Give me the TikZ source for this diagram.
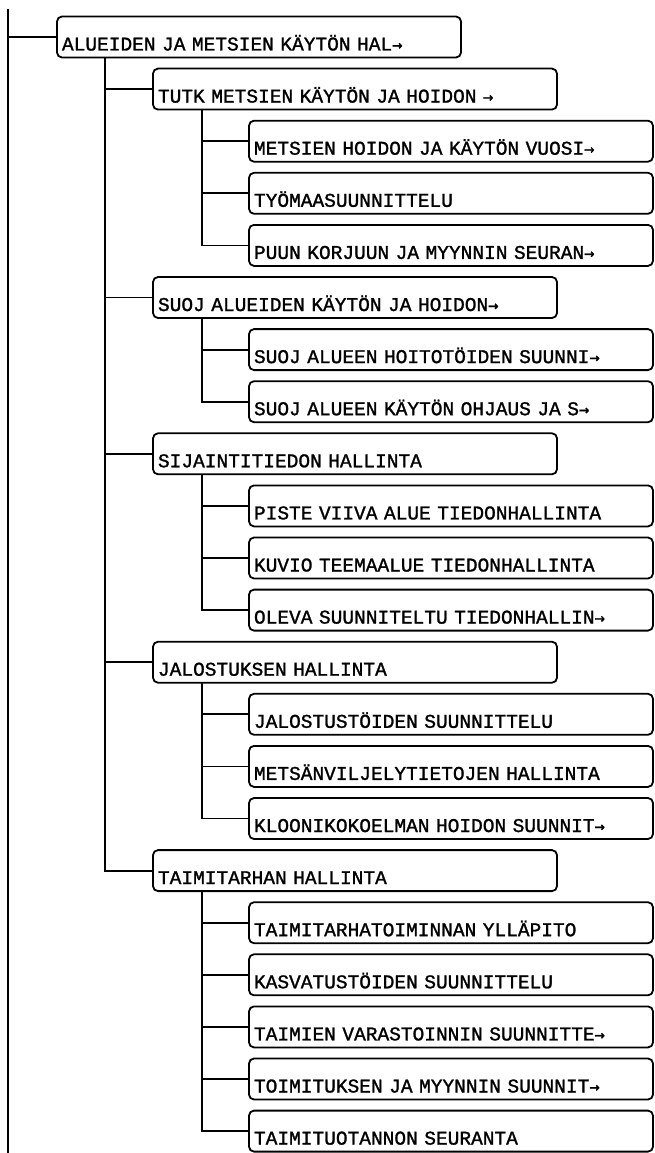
\documentclass[tikz,border=0pt]{standalone}
\usepackage{fontspec}
\usepackage{tikz}
\usetikzlibrary{positioning,calc}
\newfontfamily\plotter[FakeBold=1.3]{Liberation Mono}
\newfontfamily\plotarrow[FakeBold=1.3]{DejaVu Sans Mono}
\newcommand{\more}{{\plotarrow\fontsize{17pt}{17pt}\selectfont →}}
\tikzstyle{box} = [draw, rectangle, rounded corners=5pt, outer sep=0pt, inner xsep=5pt, inner ysep=0pt, minimum height=41pt, text width=394pt, text height=34pt, text depth=7pt, align=left, font=\plotter\fontsize{19.5pt}{19.5pt}\selectfont]
\tikzstyle{wire} = [draw, line width=1.8pt]

\begin{document}
\begin{tikzpicture}[x=1pt, y=1pt, line width=1.8pt, node distance=11.1pt]
  \useasboundingbox (0,0) rectangle (655,-1153);
  % Nodes
  \node [box, anchor=west] (alue) at (57,-37) {ALUEIDEN JA METSIEN KÄYTÖN HAL\more};
  \node [box, below=of alue.south west, anchor=north west, xshift=96pt] (tutk) {TUTK METSIEN KÄYTÖN JA HOIDON \more};
  \node [box, below=of tutk.south west, anchor=north west, xshift=96pt] (vuosi) {METSIEN HOIDON JA KÄYTÖN VUOSI\more};
  \node [box, below=of vuosi.south west, anchor=north west] (tyomaa) {TYÖMAASUUNNITTELU};
  \node [box, below=of tyomaa.south west, anchor=north west] (korjuu) {PUUN KORJUUN JA MYYNNIN SEURAN\more};
  \node [box, below=of korjuu.south west, anchor=north west, xshift=-96pt] (suoj) {SUOJ ALUEIDEN KÄYTÖN JA HOIDON\more};
  \node [box, below=of suoj.south west, anchor=north west, xshift=96pt] (hoito) {SUOJ ALUEEN HOITOTÖIDEN SUUNNI\more};
  \node [box, below=of hoito.south west, anchor=north west] (ohjaus) {SUOJ ALUEEN KÄYTÖN OHJAUS JA S\more};
  \node [box, below=of ohjaus.south west, anchor=north west, xshift=-96pt] (sijainti) {SIJAINTITIEDON HALLINTA};
  \node [box, below=of sijainti.south west, anchor=north west, xshift=96pt] (piste) {PISTE VIIVA ALUE TIEDONHALLINTA};
  \node [box, below=of piste.south west, anchor=north west] (kuvio) {KUVIO TEEMAALUE TIEDONHALLINTA};
  \node [box, below=of kuvio.south west, anchor=north west] (oleva) {OLEVA SUUNNITELTU TIEDONHALLIN\more};
  \node [box, below=of oleva.south west, anchor=north west, xshift=-96pt] (jalostus) {JALOSTUKSEN HALLINTA};
  \node [box, below=of jalostus.south west, anchor=north west, xshift=96pt] (jtyot) {JALOSTUSTÖIDEN SUUNNITTELU};
  \node [box, below=of jtyot.south west, anchor=north west] (viljely) {METSÄNVILJELYTIETOJEN HALLINTA};
  \node [box, below=of viljely.south west, anchor=north west] (klooni) {KLOONIKOKOELMAN HOIDON SUUNNIT\more};
  \node [box, below=of klooni.south west, anchor=north west, xshift=-96pt] (taimi) {TAIMITARHAN HALLINTA};
  \node [box, below=of taimi.south west, anchor=north west, xshift=96pt] (yllapito) {TAIMITARHATOIMINNAN YLLÄPITO};
  \node [box, below=of yllapito.south west, anchor=north west] (kasvatus) {KASVATUSTÖIDEN SUUNNITTELU};
  \node [box, below=of kasvatus.south west, anchor=north west] (varasto) {TAIMIEN VARASTOINNIN SUUNNITTE\more};
  \node [box, below=of varasto.south west, anchor=north west] (toimitus) {TOIMITUKSEN JA MYYNNIN SUUNNIT\more};
  \node [box, below=of toimitus.south west, anchor=north west] (seuranta) {TAIMITUOTANNON SEURANTA};

  % Trunk
  \coordinate (top) at (8,-9);
  \coordinate (bottom) at (8,-1153);
  \draw [wire] (top) -- (bottom);
  \draw [wire] (top |- alue.west) -- (alue.west);

  % Branches
  \coordinate (alue-t) at ($(alue.south west)+(48,0)$);
  \coordinate (tutk-t) at ($(tutk.south west)+(49,0)$);
  \coordinate (suoj-t) at ($(suoj.south west)+(49,0)$);
  \coordinate (sijainti-t) at ($(sijainti.south west)+(49,0)$);
  \coordinate (jalostus-t) at ($(jalostus.south west)+(49,0)$);
  \coordinate (taimi-t) at ($(taimi.south west)+(49,0)$);
  \foreach \c in {tutk,suoj,sijainti,jalostus,taimi}
    \draw [wire] (alue-t) |- (\c.west);
  \foreach \c in {vuosi,tyomaa,korjuu}
    \draw [wire] (tutk-t) |- (\c.west);
  \foreach \c in {hoito,ohjaus}
    \draw [wire] (suoj-t) |- (\c.west);
  \foreach \c in {piste,kuvio,oleva}
    \draw [wire] (sijainti-t) |- (\c.west);
  \foreach \c in {jtyot,viljely,klooni}
    \draw [wire] (jalostus-t) |- (\c.west);
  \foreach \c in {yllapito,kasvatus,varasto,toimitus,seuranta}
    \draw [wire] (taimi-t) |- (\c.west);
\end{tikzpicture}
\end{document}
